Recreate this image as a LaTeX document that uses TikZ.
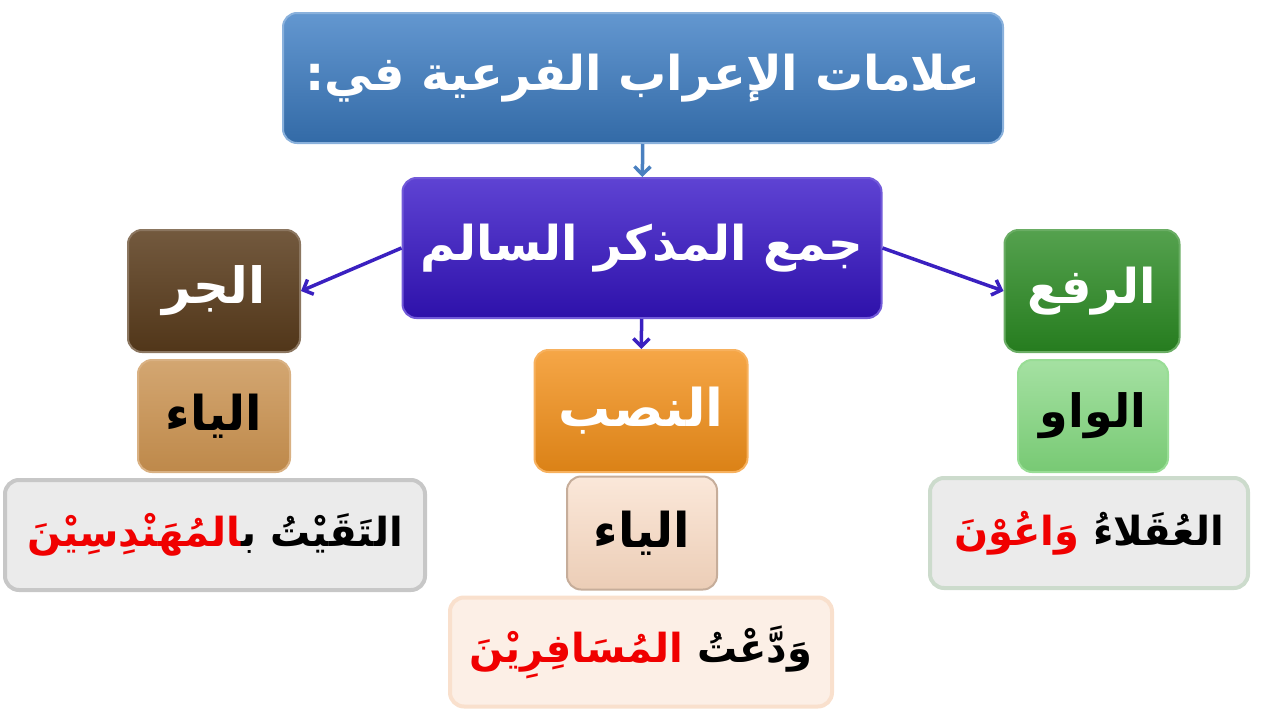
\documentclass[tikz,border=0pt]{standalone}
\usepackage{fontspec}
\newfontfamily\arabicfont[Script=Arabic]{DejaVu Sans}
\TeXXeTstate=1
\usetikzlibrary{arrows.meta}

\definecolor{titleblue}{HTML}{3C7DC4}
\definecolor{pluralblue}{HTML}{3614C8}
\definecolor{jarrbrown}{HTML}{5A3C1C}
\definecolor{jarrlight}{HTML}{C8904E}
\definecolor{nasborange}{HTML}{F39019}
\definecolor{nasblight}{HTML}{F8D8C0}
\definecolor{rafcgreen}{HTML}{2A8A22}
\definecolor{rafclight}{HTML}{7ED47A}
\definecolor{arrowblue}{HTML}{3A20C0}
\definecolor{arrowsteel}{HTML}{4A80C0}
\definecolor{wordred}{HTML}{F00000}

\newcommand\ar[1]{\arabicfont\bfseries\beginR #1\endR}
% mixed colours: words given in visual order, left to right
\newcommand\arvis[1]{\arabicfont\bfseries #1}
\newcommand\zwj{^^^^200d}

\begin{document}
\begin{tikzpicture}[x=1pt, y=-1pt,
    box/.style={rounded corners=14pt, draw, line width=2pt, inner sep=0pt, align=center},
    link/.style={line width=3.5pt, -{Straight Barb[length=8pt,width=16pt]}, draw=arrowblue}]
    \useasboundingbox (0,0) rectangle (1280,720);

    % top of the tree
    \node[box, top color=titleblue!80!white, bottom color=titleblue!85!black, draw=titleblue!60!white,
          minimum width=720pt, minimum height=130pt, text=white] at (643,78) (title)
          {\fontsize{48}{54}\selectfont\ar{علامات الإعراب الفرعية في:}};
    \node[box, top color=pluralblue!80!white, bottom color=pluralblue!85!black, draw=pluralblue!70!white,
          minimum width=479pt, minimum height=140pt, text=white] at (642,248) (plural)
          {\fontsize{48}{54}\selectfont\ar{جمع المذكر السالم}};

    % al-jarr
    \node[box, top color=jarrbrown!85!white, bottom color=jarrbrown!90!black, draw=jarrbrown!70!white,
          minimum width=172pt, minimum height=122pt, text=white] at (214,291) (jarr)
          {\fontsize{50}{56}\selectfont\ar{الجر}};
    \node[box, top color=jarrlight!80!white, bottom color=jarrlight!95!black, draw=jarrlight!70!white,
          minimum width=152pt, minimum height=112pt] at (214,416) (jarrya)
          {\fontsize{48}{54}\selectfont\ar{الياء}};
    \node[box, fill=black!8, draw=black!22, line width=4pt,
          minimum width=420pt, minimum height=110pt] at (215,535) (jarrex)
          {\fontsize{40}{46}\selectfont\arvis{{\color{wordred}\zwj المُهَنْدِسِيْنَ}ب\zwj{} التَقَيْتُ}};

    % al-nasb
    \node[box, top color=nasborange!80!white, bottom color=nasborange!90!black, draw=nasborange!70!white,
          minimum width=213pt, minimum height=122pt, text=white] at (641,411) (nasb)
          {\fontsize{52}{58}\selectfont\ar{النصب}};
    \node[box, top color=nasblight!60!white, bottom color=nasblight!95!black, draw=nasblight!80!black,
          minimum width=150pt, minimum height=113pt] at (642,533) (nasbya)
          {\fontsize{48}{54}\selectfont\ar{الياء}};
    \node[box, fill=nasblight!40!white, draw=nasblight!80!white, line width=4pt,
          minimum width=382pt, minimum height=109pt] at (641,652) (nasbex)
          {\fontsize{40}{46}\selectfont\arvis{{\color{wordred}المُسَافِرِيْنَ} وَدَّعْتُ}};

    % al-raf'
    \node[box, top color=rafcgreen!80!white, bottom color=rafcgreen!90!black, draw=rafcgreen!70!white,
          minimum width=175pt, minimum height=122pt, text=white] at (1092,291) (rafc)
          {\fontsize{48}{54}\selectfont\ar{الرفع}};
    \node[box, top color=rafclight!70!white, bottom color=rafclight!95!black, draw=rafclight!80!white,
          minimum width=150pt, minimum height=112pt] at (1093,416) (rafcwaw)
          {\fontsize{46}{52}\selectfont\ar{الواو}};
    \node[box, fill=green!4!black!8, draw=green!30!black!20, line width=4pt,
          minimum width=318pt, minimum height=110pt] at (1089,533) (rafcex)
          {\fontsize{40}{46}\selectfont\arvis{{\color{wordred}وَاعُوْنَ} العُقَلاءُ}};

    \draw[link, draw=arrowsteel] (title) -- (plural);
    \draw[link] (plural.west) -- (jarr.east);
    \draw[link] (plural.east) -- (rafc.west);
    \draw[link] (plural) -- (nasb);
\end{tikzpicture}
\end{document}
